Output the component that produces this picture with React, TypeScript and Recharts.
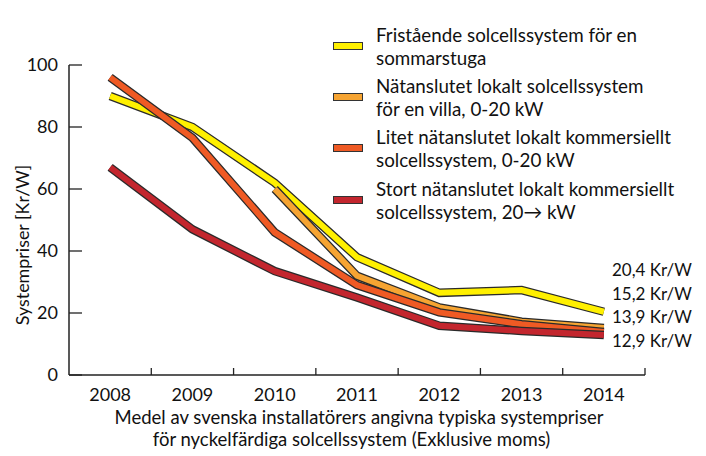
import React from "react";
import { LineChart, Line, XAxis, YAxis } from "recharts";

const years = [2008, 2009, 2010, 2011, 2012, 2013, 2014];
const fristaende = [90, 80, 62, 38, 26.5, 27.4, 20.4];
const villa = [null, null, 60, 32, 21.8, 17.2, 15.2];
const litet = [96, 76.5, 46, 29, 20.2, 16.4, 13.9];
const stort = [67, 47, 33.5, 25, 15.9, 14.2, 12.9];
const yTicks = [0, 20, 40, 60, 80, 100];
const endLabels = ["20,4 Kr/W", "15,2 Kr/W", "13,9 Kr/W", "12,9 Kr/W"];

const series = [
  { key: "fristaende", color: "#FFF000", lines: ["Fristående solcellssystem för en", "sommarstuga"] },
  { key: "villa", color: "#F6A432", lines: ["Nätanslutet lokalt solcellssystem", "för en villa, 0-20 kW"] },
  { key: "litet", color: "#EF5A24", lines: ["Litet nätanslutet lokalt kommersiellt", "solcellssystem, 0-20 kW"] },
  { key: "stort", color: "#C3262E", lines: ["Stort nätanslutet lokalt kommersiellt", "solcellssystem, 20\u2192 kW"] },
];

const data = years.map((y, i) => ({
  year: y,
  fristaende: fristaende[i],
  villa: villa[i],
  litet: litet[i],
  stort: stort[i],
}));

const FONT = "Lato, 'Open Sans', sans-serif";
const W = 706;
const H = 456;
const XH = 30;
const YW = 30;
const M = { top: 65, right: 61, bottom: 81 - XH, left: 69 - YW };
const halfBand = (W - 69 - 61) / years.length / 2;

const XTick = (props: any) => {
  const { x, y, payload } = props;
  return (
    <g>
      <line x1={x + halfBand} x2={x + halfBand} y1={y} y2={y - 7} stroke="#222" strokeWidth={1.3} />
      <text x={x} y={y + 26} textAnchor="middle" fontSize={18} fontFamily={FONT} fill="#111">
        {payload.value}
      </text>
    </g>
  );
};

const YTick = (props: any) => {
  const { x, y, payload } = props;
  return (
    <g>
      <line x1={x} x2={x + 13} y1={y} y2={y} stroke="#222" strokeWidth={1.3} />
      <text x={x - 11} y={y + 6} textAnchor="end" fontSize={18} fontFamily={FONT} fill="#111">
        {payload.value}
      </text>
    </g>
  );
};

const LegendBox = () => (
  <div
    style={{
      position: "absolute",
      left: 333,
      top: 20,
      fontFamily: FONT,
      fontSize: 18.8,
      color: "#111",
    }}
  >
    {series.map((s) => (
      <div key={s.key} style={{ display: "flex", alignItems: "center", height: 51.3 }}>
        <div
          style={{
            width: 28,
            height: 6,
            background: s.color,
            border: "1px solid #333",
            marginRight: 13,
          }}
        />
        <div style={{ lineHeight: "23px" }}>
          {s.lines.map((l, i) => (
            <div key={i} style={{ whiteSpace: "nowrap" }}>{l}</div>
          ))}
        </div>
      </div>
    ))}
  </div>
);

export default function App() {
  return (
    <div style={{ position: "relative", width: W, height: H, margin: "-8px 0 0 -8px", background: "#fff" }}>
      <LineChart width={W} height={H} data={data} margin={M}>
        <XAxis
          dataKey="year"
          type="number"
          domain={[2007.5, 2014.5]}
          ticks={years}
          height={XH}
          tickSize={0}
          tickMargin={0}
          tick={<XTick />}
          axisLine={{ stroke: "#222", strokeWidth: 1.5 }}
          tickLine={false}
          interval={0}
          allowDataOverflow
        />
        <YAxis
          type="number"
          domain={[0, 100]}
          ticks={yTicks}
          width={YW}
          tickSize={0}
          tickMargin={0}
          tick={<YTick />}
          axisLine={{ stroke: "#222", strokeWidth: 1.5 }}
          tickLine={false}
          interval={0}
        />
        {series.flatMap((s) => [
          <Line
            key={s.key + "-o"}
            dataKey={s.key}
            stroke="#2a2a2a"
            strokeWidth={8.5}
            dot={false}
            activeDot={false}
            legendType="none"
            isAnimationActive={false}
            strokeLinejoin="miter"
            strokeLinecap="butt"
          />,
          <Line
            key={s.key}
            dataKey={s.key}
            stroke={s.color}
            strokeWidth={6}
            dot={false}
            activeDot={false}
            isAnimationActive={false}
            strokeLinejoin="miter"
            strokeLinecap="butt"
          />,
        ])}
      </LineChart>
      <LegendBox />
      <div
        style={{
          position: "absolute",
          left: 22,
          top: 245,
          transform: "translate(-50%, -50%) rotate(-90deg)",
          fontFamily: FONT,
          fontSize: 17.9,
          whiteSpace: "nowrap",
          color: "#111",
        }}
      >
        Systempriser [Kr/W]
      </div>
      <div
        style={{
          position: "absolute",
          left: 0,
          width: 718,
          top: 406,
          textAlign: "center",
          fontFamily: FONT,
          fontSize: 18.5,
          lineHeight: "22px",
          color: "#111",
        }}
      >
        <div>Medel av svenska installatörers angivna typiska systempriser</div>
        <div style={{ marginRight: 15 }}>för nyckelfärdiga solcellssystem (Exklusive moms)</div>
      </div>
      <div
        style={{
          position: "absolute",
          left: 612,
          top: 258,
          fontFamily: FONT,
          fontSize: 17,
          lineHeight: "23.7px",
          color: "#111",
        }}
      >
        {endLabels.map((t) => (
          <div key={t} style={{ whiteSpace: "nowrap" }}>{t}</div>
        ))}
      </div>
    </div>
  );
}
